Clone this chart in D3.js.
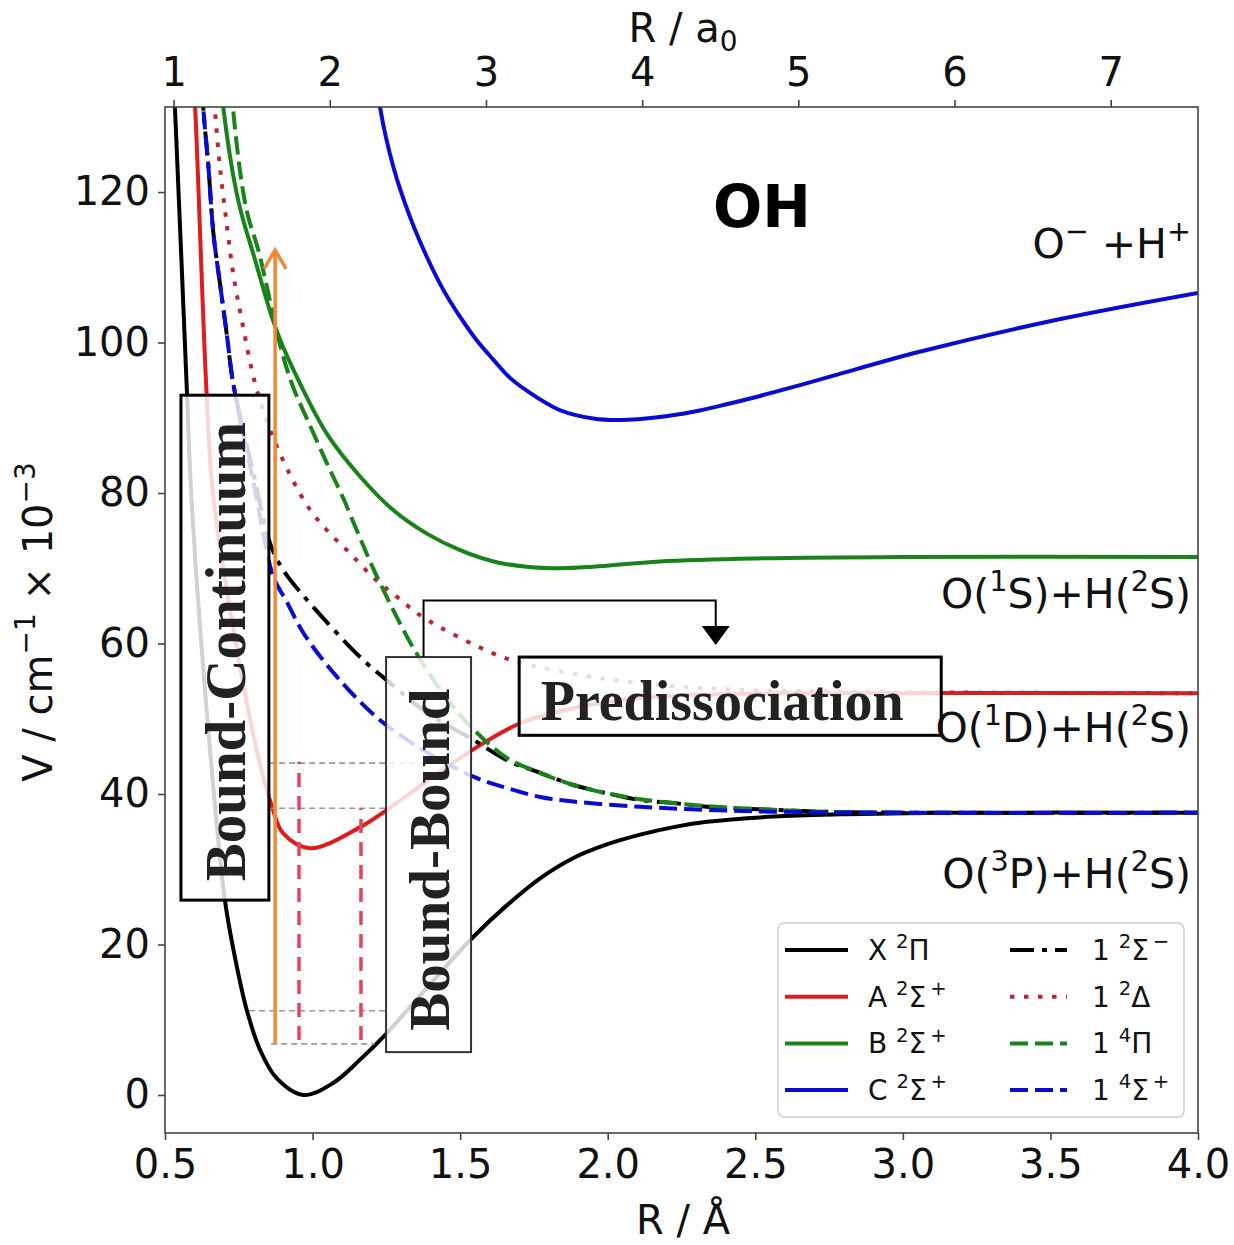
<!DOCTYPE html>
<html><head><meta charset="utf-8">
<script src="https://cdn.jsdelivr.net/npm/d3@7"></script>
<style>body{margin:0;background:#fff}</style>
</head><body>
<svg id="c" width="1234" height="1245"></svg>
<script>
// ---------- data (R in Å, V in 10^3 cm^-1) ----------
const X2Pi   = [[0.530,134],[0.534,131],[0.574,93.7],[0.590,79.1],[0.650,47],[0.703,25.9],[0.737,18.3],[0.777,11.3],[0.822,6.0],[0.879,2.2],[0.969,0.0],[1.070,1.6],[1.161,4.7],[1.251,8.2],[1.400,14.8],[1.539,20.8],[1.658,25.2],[1.771,28.8],[1.884,31.5],[1.997,33.3],[2.110,34.6],[2.223,35.6],[2.336,36.3],[2.562,37.0],[2.787,37.3],[3.126,37.5],[4.0,37.5]];
const A2SigP = [[0.597,134],[0.602,131.3],[0.641,93.2],[0.665,79.1],[0.798,48.1],[0.866,37.9],[0.900,34.8],[0.991,32.8],[1.161,35.6],[1.252,37.9],[1.398,42.0],[1.539,45.8],[1.703,49.4],[1.839,51.0],[2.042,52.5],[2.313,53.2],[2.652,53.4],[4.0,53.4]];
const B2SigP = [[0.692,134],[0.698,131.1],[0.748,118.9],[0.805,111.0],[0.862,103.4],[0.895,99.9],[0.952,95.0],[1.048,87.9],[1.161,82.2],[1.274,77.7],[1.387,74.6],[1.500,72.4],[1.613,70.9],[1.726,70.2],[1.839,70.0],[1.951,70.2],[2.177,70.9],[2.5,71.3],[3.0,71.5],[4.0,71.5]];
const C2SigP = [[1.221,134],[1.229,131.2],[1.274,123.3],[1.330,116.7],[1.387,111.4],[1.443,107.0],[1.500,103.4],[1.556,100.3],[1.613,97.7],[1.669,95.3],[1.726,93.6],[1.839,91.0],[1.951,89.9],[2.042,89.7],[2.177,90.1],[2.290,90.8],[2.403,91.8],[2.516,92.9],[2.629,94.1],[2.765,95.6],[3.06,98.8],[3.53,103.1],[4.0,106.6]];
const S2SigM = [[0.627,134],[0.630,131],[0.647,123.4],[0.664,114.5],[0.686,107.9],[0.709,101.2],[0.731,94.6],[0.805,81.7],[0.856,73.3],[0.900,69.8],[0.981,65.8],[1.161,58.2],[1.252,55.1],[1.398,50.5],[1.545,47.2],[1.658,44.5],[1.771,42.8],[1.884,41.2],[1.997,40.1],[2.110,39.2],[2.223,38.8],[2.336,38.3],[2.562,37.9],[2.787,37.6],[3.2,37.5],[4.0,37.5]];
const D2Delta= [[0.664,134],[0.669,131],[0.686,123.4],[0.709,115.8],[0.731,109.2],[0.760,103.0],[0.805,94.6],[0.856,88.4],[0.924,82.4],[0.991,77.8],[1.059,74.6],[1.127,72.0],[1.205,68.8],[1.286,66.2],[1.374,63.5],[1.611,58.7],[1.713,57.4],[1.974,55.4],[2.313,54.1],[2.821,53.6],[4.0,53.4]];
const Q4Pi   = [[0.727,134],[0.731,130.9],[0.760,121.2],[0.782,116.7],[0.816,112.3],[0.895,98.9],[0.935,94.0],[0.991,89.0],[1.048,84.0],[1.104,79.3],[1.161,74.0],[1.217,69.0],[1.340,59.5],[1.449,53.0],[1.545,48.6],[1.658,44.8],[1.771,42.8],[1.884,41.2],[1.997,40.1],[2.110,39.3],[2.336,38.4],[2.562,37.9],[2.787,37.6],[4.0,37.5]];
const Q4SigP = [[0.626,134],[0.630,131],[0.647,123.4],[0.664,114.5],[0.686,107.9],[0.709,101.2],[0.731,94.6],[0.805,80.4],[0.867,68.9],[0.912,65.6],[0.969,61.4],[1.082,55.6],[1.229,49.8],[1.398,45.3],[1.545,42.3],[1.658,40.8],[1.771,39.6],[1.884,39.0],[2.110,38.3],[2.336,37.9],[2.562,37.65],[3.0,37.5],[4.0,37.5]];

const xTicks   = [0.5,1.0,1.5,2.0,2.5,3.0,3.5,4.0];
const yTicks   = [0,20,40,60,80,100,120];
const topTicks = [1,2,3,4,5,6,7];
const BOHR = 0.529177;

// annotation values
const pumpArrow = {R:0.873, V0:6.8, V1:112.3};
const redVerticals = [{R:0.954,V0:7.3,V1:44.3},{R:1.164,V0:7.3,V1:38.1}];
const grayLevels = [{V:44.1,R0:0.853,R1:1.440},{V:38.1,R0:0.853,R1:1.253},{V:11.2,R0:0.785,R1:1.253},{V:6.8,R0:0.860,R1:1.210}];

const TS = "\u2009";
const series = [
  {name:"X", data:X2Pi,   color:"#000000", dash:null,        lbl:[["X "],["2",1],["Π"]]},
  {name:"A", data:A2SigP, color:"#dd1c1c", dash:null,        lbl:[["A "],["2",1],["Σ"],[TS+"+",1]]},
  {name:"B", data:B2SigP, color:"#1a821a", dash:null,        lbl:[["B "],["2",1],["Σ"],[TS+"+",1]]},
  {name:"C", data:C2SigP, color:"#0a0ad2", dash:null,        lbl:[["C "],["2",1],["Σ"],[TS+"+",1]]},
  {name:"S", data:S2SigM, color:"#000000", dash:"24,8,5,8",  lbl:[["1 "],["2",1],["Σ"],[TS+"−",1]]},
  {name:"D", data:D2Delta,color:"#b22a35", dash:"4.5,9.5",   lbl:[["1 "],["2",1],["Δ"]]},
  {name:"P", data:Q4Pi,   color:"#1a821a", dash:"18,7",      lbl:[["1 "],["4",1],["Π"]]},
  {name:"Q", data:Q4SigP, color:"#0a0ad2", dash:"18,7",      lbl:[["1 "],["4",1],["Σ"],[TS+"+",1]]}
];

// ---------- layout ----------
const L=165, Rr=1198, T=107, B=1133;
const x = d3.scaleLinear().domain([0.5,4.0]).range([L,Rr]);
const y = d3.scaleLinear().domain([-5.05,131.3]).range([B,T]);
const xTop = d3.scaleLinear().domain([0.5/BOHR,4.0/BOHR]).range([L,Rr]);
const FONT = "DejaVu Sans, sans-serif";
const SERIF = "Liberation Serif, Times New Roman, serif";

const svg = d3.select("#c");
svg.append("rect").attr("width",1234).attr("height",1245).attr("fill","#fff");
svg.append("defs").append("clipPath").attr("id","clip")
  .append("rect").attr("x",L).attr("y",T).attr("width",Rr-L).attr("height",B-T);

// parts: [text, mode] mode 1 = superscript, 2 = subscript
function rich(sel, parts, size){
  let shift=0;
  parts.forEach(p=>{
    const t = sel.append("tspan").text(p[0]);
    const target = p[1]===1 ? -size*0.42 : p[1]===2 ? size*0.22 : 0;
    t.attr("font-size", p[1] ? size*0.7 : size);
    if(target!==shift){ t.attr("dy", target-shift); shift=target; }
  });
  return sel;
}

// curves
const line = d3.line().x(d=>x(d[0])).y(d=>y(d[1])).curve(d3.curveCatmullRom.alpha(0.5));
const g = svg.append("g").attr("clip-path","url(#clip)");
series.forEach(s=>{
  g.append("path").datum(s.data).attr("d",line)
    .attr("fill","none").attr("stroke",s.color).attr("stroke-width",4)
    .attr("stroke-dasharray",s.dash).attr("stroke-linejoin","round");
});

// gray dashed levels
grayLevels.forEach(l=>{
  g.append("line").attr("x1",x(l.R0)).attr("x2",x(l.R1)).attr("y1",y(l.V)).attr("y2",y(l.V))
   .attr("stroke","#9a9a9a").attr("stroke-width",1.6).attr("stroke-dasharray","6,4");
});
// red dashed verticals
redVerticals.forEach(v=>{
  g.append("line").attr("x1",x(v.R)).attr("x2",x(v.R)).attr("y1",y(v.V0)).attr("y2",y(v.V1))
   .attr("stroke","#e0465e").attr("stroke-width",3.5).attr("stroke-dasharray","14,9");
});
// orange arrow
{
  const ax=x(pumpArrow.R), y0=y(pumpArrow.V0), y1=y(pumpArrow.V1);
  g.append("line").attr("x1",ax).attr("x2",ax).attr("y1",y0).attr("y2",y1+1)
    .attr("stroke","#ee8a35").attr("stroke-width",3.5);
  g.append("path").attr("d",`M${ax-11},${y1+19} L${ax},${y1} L${ax+11},${y1+19}`)
    .attr("fill","none").attr("stroke","#ee8a35").attr("stroke-width",3.5).attr("stroke-linejoin","miter");
}

// boxes (semi-transparent)
function box(R0,R1,V0,V1,sw,stroke){
  return svg.append("rect").attr("x",x(R0)).attr("y",y(V1)).attr("width",x(R1)-x(R0)).attr("height",y(V0)-y(V1))
    .attr("fill","#fff").attr("fill-opacity",0.82).attr("stroke",stroke).attr("stroke-width",sw);
}
box(0.554,0.852,25.9,93.0,3,"#000");
box(1.249,1.537,5.7,58.2,2,"#333");
box(1.700,3.130,47.8,58.2,3,"#000");

// texts in boxes
svg.append("text").attr("transform",`translate(${x(0.703)+20},${(y(25.9)+y(93.0))/2+4}) rotate(-90)`)
  .attr("text-anchor","middle").attr("font-family",SERIF).attr("font-weight","bold")
  .attr("font-size",57).attr("fill","#222").text("Bound-Continuum");
svg.append("text").attr("transform",`translate(${(x(1.249)+x(1.537))/2+20},${(y(5.7)+y(58.2))/2+5}) rotate(-90)`)
  .attr("text-anchor","middle").attr("font-family",SERIF).attr("font-weight","bold")
  .attr("font-size",57).attr("fill","#222").text("Bound-Bound");
svg.append("text").attr("x",(x(1.700)+x(3.130))/2-8).attr("y",y(47.8)-15)
  .attr("text-anchor","middle").attr("font-family",SERIF).attr("font-weight","bold")
  .attr("font-size",56).attr("fill","#222").text("Predissociation");

// elbow arrow
{
  const xa=x(1.376), xb=x(2.366), ya=y(58.2), yt=y(65.7), yb=y(59.8);
  svg.append("path").attr("d",`M${xa},${ya} L${xa},${yt} L${xb},${yt} L${xb},${yb-18}`)
    .attr("fill","none").attr("stroke","#000").attr("stroke-width",2);
  svg.append("path").attr("d",`M${xb-14},${yb-19} L${xb+14},${yb-19} L${xb},${yb} Z`).attr("fill","#000");
}

// axes frame
svg.append("rect").attr("x",L).attr("y",T).attr("width",Rr-L).attr("height",B-T)
  .attr("fill","none").attr("stroke","#444").attr("stroke-width",1.6);

function styleAxis(sel){
  sel.select(".domain").remove();
  sel.selectAll(".tick line").attr("stroke","#444").attr("stroke-width",1.6);
  sel.selectAll(".tick text").attr("font-family",FONT).attr("font-size",40).attr("fill","#111");
}
svg.append("g").attr("transform",`translate(0,${B})`)
  .call(d3.axisBottom(x).tickValues(xTicks).tickFormat(d3.format(".1f")).tickSize(7).tickPadding(10)).call(styleAxis);
svg.append("g").attr("transform",`translate(${L},0)`)
  .call(d3.axisLeft(y).tickValues(yTicks).tickFormat(d3.format("d")).tickSize(7).tickPadding(8)).call(styleAxis);
svg.append("g").attr("transform",`translate(0,${T})`)
  .call(d3.axisTop(xTop).tickValues(topTicks).tickFormat(d3.format("d")).tickSize(7).tickPadding(14)).call(styleAxis);

// axis titles
rich(svg.append("text").attr("x",683).attr("y",1234).attr("text-anchor","middle")
  .attr("font-family",FONT).attr("fill","#111"),[["R / Å"]],40);
rich(svg.append("text").attr("x",683).attr("y",42).attr("text-anchor","middle")
  .attr("font-family",FONT).attr("fill","#111"),[["R / a"],["0",2]],40);
rich(svg.append("text").attr("transform","translate(52,622) rotate(-90)").attr("text-anchor","middle")
  .attr("font-family",FONT).attr("fill","#111"),[["V / cm"],["−1",1],[" × 10"],["−3",1]],40);

// annotations
svg.append("text").attr("x",762).attr("y",227).attr("text-anchor","middle")
  .attr("font-family",FONT).attr("font-weight","bold").attr("font-size",58).attr("fill","#000").text("OH");
const limitLabels = [
  {y:258, parts:[["O"],["−",1],[" +H"],["+",1]]},
  {y:608, parts:[["O("],["1",1],["S)+H("],["2",1],["S)"]]},
  {y:742, parts:[["O("],["1",1],["D)+H("],["2",1],["S)"]]},
  {y:888, parts:[["O("],["3",1],["P)+H("],["2",1],["S)"]]}
];
limitLabels.forEach(l=>{
  rich(svg.append("text").attr("x",1191).attr("y",l.y).attr("text-anchor","end")
    .attr("font-family",FONT).attr("fill","#111"),l.parts,41);
});

// legend
const lg = svg.append("g");
lg.append("rect").attr("x",778).attr("y",923).attr("width",406).attr("height",194).attr("rx",6)
  .attr("fill","#fff").attr("fill-opacity",0.85).attr("stroke","#cfcfcf").attr("stroke-width",1.5);
series.forEach((s,i)=>{
  const col=Math.floor(i/4), row=i%4;
  const lx = col===0?785:1010, ly = 950+row*46.7;
  lg.append("line").attr("x1",lx).attr("x2",lx+(col===0?63:57)).attr("y1",ly).attr("y2",ly)
    .attr("stroke",s.color).attr("stroke-width",4).attr("stroke-dasharray",s.dash);
  rich(lg.append("text").attr("x",col===0?868:1092).attr("y",ly+10)
    .attr("font-family",FONT).attr("fill","#111"),s.lbl,28);
});
</script>
</body></html>
